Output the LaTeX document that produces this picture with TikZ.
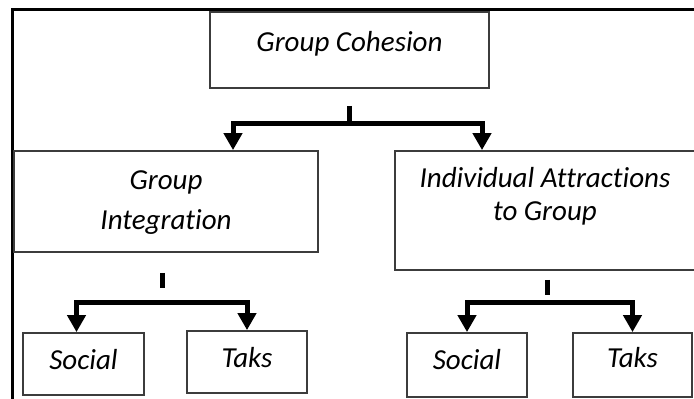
\documentclass[tikz,border=0pt]{standalone}
\usepackage{fontspec}
\setmainfont{Carlito}[Ligatures=NoCommon]
\usetikzlibrary{arrows.meta}
\definecolor{boxgray}{RGB}{60,60,60}

\tikzset{
  box/.style={draw=boxgray, line width=1.8pt, inner sep=0pt},
  txt/.style={font=\fontsize{29pt}{40pt}\selectfont\itshape, inner sep=0pt, anchor=base, align=center},
  frame/.style={line width=3pt, black},
  stem/.style={line width=5pt, black},
  arr/.style={line width=5pt, black, -{Triangle[width=18pt,length=17pt]}}
}

\begin{document}
\begin{tikzpicture}[x=1pt, y=1pt]
  \useasboundingbox (0,0) rectangle (694,399);
  \clip (0,0) rectangle (694,399);
  \draw[frame] (12,0) -- (12,389) -- (694,389);

  % boxes
  \node[box, minimum width=279pt, minimum height=76pt] (cohesion) at (349.5,349) {};
  \node[box, minimum width=304pt, minimum height=101pt] (integ) at (166,197.5) {};
  \node[box, minimum width=320pt, minimum height=119pt] (attract) at (555,188.5) {};
  \node[box, minimum width=121pt, minimum height=62pt] (soc1) at (83.5,35) {};
  \node[box, minimum width=120pt, minimum height=62pt] (taks1) at (247,37) {};
  \node[box, minimum width=120pt, minimum height=64pt] (soc2) at (467,34) {};
  \node[box, minimum width=119pt, minimum height=64pt] (taks2) at (632.5,34) {};

  % labels (base = last line)
  \node[txt] (cohesiontxt) at ([yshift=-40pt]cohesion.north) {Group Cohesion};
  \node[txt] (integtxt) at ([yshift=-79pt]integ.north) {Group\\Integration};
  \node[txt, font=\fontsize{29pt}{33pt}\selectfont\itshape] (attracttxt) at ([xshift=-10pt,yshift=-70pt]attract.north) {Individual Attractions\\to Group};
  \node[txt] (soc1txt) at ([yshift=-37pt]soc1.north) {Social};
  \node[txt] (taks1txt) at ([yshift=-37pt]taks1.north) {Taks};
  \node[txt] (soc2txt) at ([yshift=-37pt]soc2.north) {Social};
  \node[txt] (taks2txt) at ([yshift=-35pt]taks2.north) {Taks};

  % connectors
  \draw[stem] ([yshift=-17pt]cohesion.south) -- ([yshift=-35pt]cohesion.south);
  \draw[arr] ([yshift=-35pt]cohesion.south) -| ([xshift=67pt]integ.north);
  \draw[arr] ([yshift=-35pt]cohesion.south) -| ([xshift=-73pt]attract.north);

  \draw[stem] ([xshift=-4pt,yshift=-20pt]integ.south) -- ([xshift=-4pt,yshift=-35pt]integ.south);
  \draw[arr] ([yshift=-50pt]integ.south) -| ([xshift=-7pt]soc1.north);
  \draw[arr] ([yshift=-50pt]integ.south) -| (taks1.north);

  \draw[stem] ([xshift=-8pt,yshift=-9pt]attract.south) -- ([xshift=-8pt,yshift=-24pt]attract.south);
  \draw[arr] ([yshift=-32pt]attract.south) -| (soc2.north);
  \draw[arr] ([yshift=-32pt]attract.south) -| (taks2.north);
\end{tikzpicture}
\end{document}
